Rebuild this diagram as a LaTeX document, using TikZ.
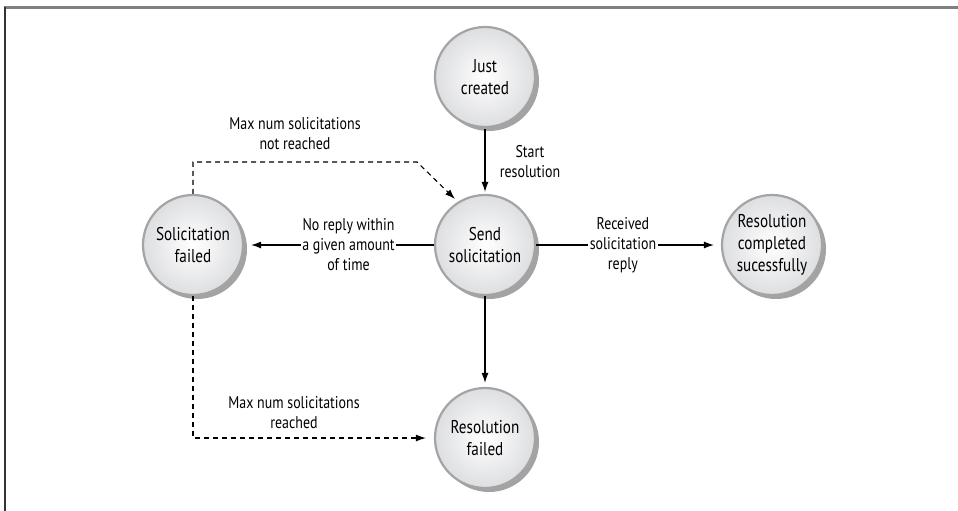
\documentclass[tikz,border=0pt]{standalone}
\usepackage{fontspec}
\setmainfont{PT Sans}[FakeStretch=0.82]
\usetikzlibrary{shadows,arrows.meta,calc}
\definecolor{statefill}{HTML}{EEEFF2}
\definecolor{stateedge}{HTML}{A4A4A6}
\tikzset{
  state/.style={circle, minimum size=100pt, inner sep=0pt, draw=stateedge, line width=2.2pt,
    inner color=white, outer color=statefill!85!gray, align=center,
    font=\fontsize{18.5}{22}\selectfont,
    drop shadow={shadow xshift=4pt, shadow yshift=-4pt, fill=black!45, opacity=0.8}},
  lbl/.style={align=center, font=\fontsize{17}{20}\selectfont, inner sep=1.5pt},
  arr/.style={line width=1.1pt, -{Latex[length=10pt,width=7pt]}},
  darr/.style={arr, dash pattern=on 5pt off 4pt}
}
\begin{document}
\begin{tikzpicture}[x=1pt,y=-1pt]
\useasboundingbox (0,0) rectangle (958,511);
\fill[white] (0,0) rectangle (958,511);
\draw[line width=2.5pt, black!50] (4,7.5) -- (958,7.5);
\draw[line width=2pt, black!80] (4.5,7) -- (4.5,511);

\node[state] (JC) at (485,77) {Just\\created};
\node[state] (SS) at (485,245) {Send\\solicitation};
\node[state] (SF) at (193,245) {Solicitation\\failed};
\node[state] (RC) at (772,245) {Resolution\\completed\\sucessfully};
\node[state] (RF) at (485,438) {Resolution\\failed};

\coordinate (c1) at (417,162);
\coordinate (c2) at (455,199);

\draw[arr, shorten <=1pt, shorten >=2pt] (JC) -- (SS);
\node[lbl] (Lstart) at (530,162) {Start\\resolution};

\draw[arr, shorten >=7pt] (SS) -- node[lbl, fill=white, pos=0.45] (Lnoreply) {No reply within\\a given amount\\of time} (SF);
\draw[arr, shorten >=7pt] (SS) -- node[lbl, fill=white, pos=0.47] (Lrecv) {Received\\solicitation\\reply} (RC);
\draw[arr, shorten >=4pt] (SS) -- (RF);

\draw[darr] (SF) |- (c1) -- (c2);
\node[lbl] (Lnot) at (295,134) {Max num solicitations\\not reached};

\draw[darr, shorten >=8pt] (SF) |- (RF);
\node[lbl] (Lreach) at (294,413) {Max num solicitations\\reached};
\end{tikzpicture}
\end{document}
